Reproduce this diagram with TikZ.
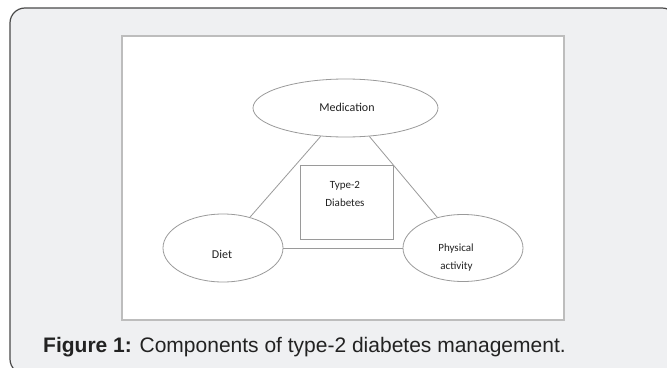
\documentclass[tikz,border=0pt]{standalone}
\usepackage{fontspec}
\setmainfont{Carlito}
\newfontfamily\capfont{Liberation Sans}
\usetikzlibrary{shapes.geometric,positioning}

\definecolor{panelgray}{HTML}{EFF0F2}
\definecolor{rimgray}{HTML}{4A4A4A}
\definecolor{framegray}{HTML}{BDBDBD}
\definecolor{inkgray}{HTML}{9A9A9A}
\definecolor{textgray}{HTML}{222222}

\tikzset{
  bubble/.style={ellipse, draw=inkgray, line width=0.8pt, fill=white, inner sep=0pt},
  corebox/.style={rectangle, draw=inkgray, line width=1pt, fill=white, inner sep=0pt},
  lbl/.style={font=\fontsize{12}{13}\selectfont, text=textgray, align=center, inner sep=0pt},
  link/.style={draw=inkgray, line width=0.8pt}
}

\begin{document}
\begin{tikzpicture}[x=1pt, y=-1pt]
    \useasboundingbox (0,0) rectangle (667,367);
    % Panel and frame
    \draw[rimgray, line width=1.2pt, fill=panelgray, rounded corners=15pt] (10,8) rectangle (677,374);
    \draw[framegray, line width=1.6pt, fill=white] (122,36) rectangle (564,320);

    % Components
    \node[bubble, minimum width=185pt, minimum height=58pt] (med) at (345.5,108) {};
    \node[bubble, minimum width=120pt, minimum height=68pt] (diet) at (223,248) {};
    \node[bubble, minimum width=120pt, minimum height=67pt] (phys) at (463,248) {};
    \node[corebox, minimum width=93pt, minimum height=74pt] (core) at (346.5,202) {};

    % Connections
    \draw[link] (med) -- (diet);
    \draw[link] (med) -- (phys);
    \draw[link] (diet) -- (phys);

    % Labels
    \node[lbl] (medtxt) at (347,107) {Medication};
    \node[lbl] (diettxt) at (222,254) {Diet};
    \node[lbl, font=\fontsize{11}{18}\selectfont, align=left] (phystxt) at (456,258) {Physical\\\hspace*{2pt}activity};
    \node[lbl, font=\fontsize{11}{18}\selectfont] (coretxt) at (345,194) {Type-2\\Diabetes};

    % Caption
    \node[anchor=base west, inner sep=0pt, text=textgray, font=\capfont\fontsize{21}{24}\selectfont] (caption) at (43,352) {\textbf{Figure 1:} Components of type-2 diabetes management.};
\end{tikzpicture}
\end{document}
